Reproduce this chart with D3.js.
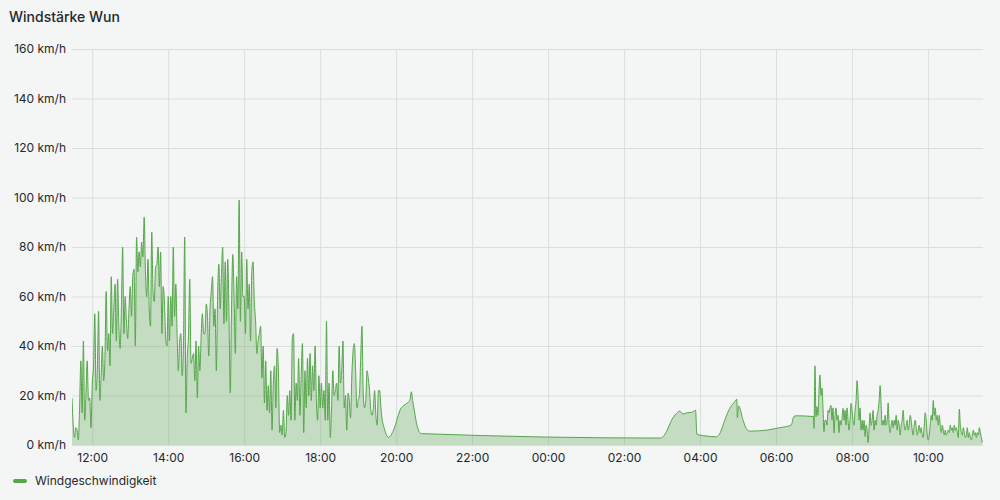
<!DOCTYPE html>
<html>
<head>
<meta charset="utf-8">
<script src="https://cdn.jsdelivr.net/npm/d3@7"></script>
<style>
  body { margin: 0; background: #f4f5f5; }
  svg { display: block; font-family: Inter, "Noto Sans", sans-serif; }
</style>
</head>
<body>
<svg id="chart" width="1000" height="500"></svg>
<script>
// storm afternoon, one reading every 2 minutes from 11:28
const stormStart = '2024-05-01 11:28'
const stormStepMin = 2
const stormValues = [
  19, 8, 3, 7, 6, 2, 15, 34, 13, 42, 10, 20, 34, 18, 19, 7,
  25, 32, 53, 22, 30, 54, 18, 28, 40, 26, 35, 62, 38, 45, 32, 68, 45, 55, 65, 42, 67, 48, 39, 55, 80, 45, 60, 50, 43, 55,
  64, 52, 68, 71, 40, 84, 70, 78, 72, 82, 76, 92, 70, 60, 75, 55, 48, 86, 62, 58, 72, 73, 80, 64, 78, 45, 64, 58, 43, 40,
  60, 42, 60, 48, 80, 52, 65, 45, 30, 42, 45, 28, 40, 84, 13, 35, 44, 67, 33, 35, 37, 26, 42, 19, 40, 30, 44, 53, 45, 45,
  57, 52, 36, 55, 62, 68, 48, 55, 30, 60, 73, 55, 68, 80, 49, 74, 50, 75, 52, 21, 55, 77, 60, 37, 68, 55, 99, 50, 78, 60,
  60, 45, 75, 55, 65, 42, 70, 74, 58, 50, 37, 42, 45, 48, 27, 40, 17, 34, 14, 24, 13, 30, 6, 25, 32, 15, 39, 30, 5, 8,
  4, 14, 3, 5, 20, 12, 22, 10, 43, 45, 10, 25, 18, 35, 12, 28, 41, 5, 30, 15, 35, 20, 37, 18, 32, 22, 40, 18, 10, 28,
  15, 25, 15, 22, 10, 50, 10, 25, 3, 15, 30, 20, 22, 25, 18, 40, 25, 30, 42, 15, 20, 6, 21, 18, 11, 28, 38, 41, 30, 15,
  18, 20, 35, 48, 21, 15, 18, 30, 27, 22, 14, 12, 15, 22, 12, 8, 22, 22, 15, 10, 8, 6, 4.5, 3.5, 3, 3.5, 4, 5, 6, 7.5,
  9, 11, 12.5, 14, 15, 15.5, 16, 16.3, 16.7, 17, 17.5, 18.5, 21.5, 18, 15, 12, 9, 7, 5.5, 4.8,
  4.6
]

// quiet night, sparse readings
const calmTimes = [
  '2024-05-02 02:58', '2024-05-02 03:07', '2024-05-02 03:15', '2024-05-02 03:23', '2024-05-02 03:28',
  '2024-05-02 03:33', '2024-05-02 03:39', '2024-05-02 03:47', '2024-05-02 03:53', '2024-05-02 03:55',
  '2024-05-02 04:00', '2024-05-02 04:11', '2024-05-02 04:26', '2024-05-02 04:32', '2024-05-02 04:39',
  '2024-05-02 04:47', '2024-05-02 04:55', '2024-05-02 04:58', '2024-05-02 04:59', '2024-05-02 05:01',
  '2024-05-02 05:08', '2024-05-02 05:14', '2024-05-02 05:19', '2024-05-02 05:45', '2024-05-02 06:06',
  '2024-05-02 06:24', '2024-05-02 06:28', '2024-05-02 06:32', '2024-05-02 06:59'
]
const calmValues = [
  2.8, 5.4, 10, 12.8, 13.7,
  12.5, 13, 13.2, 14, 4.4,
  4, 3.6, 3.3, 5, 10,
  14.8, 17.5, 18.5, 11, 15.8,
  10, 6.3, 5.6, 6, 7,
  8, 11.4, 11.8, 11.5
]

// gusty morning, one reading every 95 seconds from 07:00
const morningStart = '2024-05-02 07:00'
const morningStepSec = 95
const morningValues = [
  6.7, 32, 11.4, 15.5, 12, 22, 28.3, 20, 23, 15,
  5.4, 10, 10, 8, 14, 13, 15, 16, 10, 15,
  4.8, 12, 15, 10, 12, 5, 10, 8, 10.8, 14.8,
  10, 14, 8, 15, 10, 6, 10, 16.8, 14, 10,
  8, 14, 18, 26, 20, 10, 15, 6, 10, 6,
  10, 3.4, 8, 6, 1, 7, 13, 8, 10, 14,
  6, 10, 8, 12, 14, 18, 24, 16, 8, 10,
  8, 12, 8, 10, 17, 8, 5, 8, 10, 7,
  10, 8, 12, 6, 10, 8, 4, 8, 10, 14,
  8, 6, 8, 10, 6, 8, 12, 10, 6, 4,
  8, 10, 7, 4, 6, 8, 5, 7, 4, 3,
  8, 13, 10, 4, 2, 4, 8, 12, 10, 18,
  12, 15, 10, 12, 8, 12, 8, 5, 8, 6,
  4, 6, 4, 5, 6, 5, 8, 6, 7, 5,
  8, 6, 7, 5, 3, 14.5, 8, 5, 4, 7,
  5, 3, 4, 7, 3, 5, 3, 2, 4, 6,
  4, 5, 3, 5, 4, 7, 5, 3, 1
]

const yTicks = [0, 20, 40, 60, 80, 100, 120, 140, 160]
const timeRange = ['2024-05-01 11:28', '2024-05-02 11:27']
const seriesName = 'Windgeschwindigkeit'
const title = 'Windstärke Wun'

const parse = d3.timeParse('%Y-%m-%d %H:%M')
const green = '#56a64b'
const textColor = '#24292e'

const plot = { left: 72, right: 983, top: 49, bottom: 445 }

// put all readings into one series
var points = []
var t0 = parse(stormStart)
stormValues.forEach((v, i) => points.push({ t: d3.timeMinute.offset(t0, i * stormStepMin), v: v }))
calmTimes.forEach((s, i) => points.push({ t: parse(s), v: calmValues[i] }))
var t1 = parse(morningStart)
morningValues.forEach((v, i) => points.push({ t: d3.timeSecond.offset(t1, i * morningStepSec), v: v }))

const x = d3.scaleTime()
    .domain(timeRange.map(parse))
    .range([plot.left, plot.right])

const y = d3.scaleLinear()
    .domain([0, 160])
    .range([plot.bottom, plot.top])

const svg = d3.select('#chart')

svg.append('text')
    .attr('x', 9)
    .attr('y', 22)
    .style('font-size', '14px')
    .style('font-weight', 500)
    .attr('fill', textColor)
    .text(title)

// grid
svg.append('g')
    .attr('transform', `translate(${plot.left},0)`)
    .call(d3.axisLeft(y).tickValues(yTicks).tickSize(-(plot.right - plot.left)).tickFormat(''))
    .call(g => g.select('.domain').remove())
    .call(g => g.selectAll('line').attr('stroke', '#dcdddf'))

svg.append('g')
    .attr('transform', `translate(0,${plot.bottom})`)
    .call(d3.axisBottom(x).ticks(d3.timeHour.every(2)).tickSize(-(plot.bottom - plot.top)).tickFormat(''))
    .call(g => g.select('.domain').remove())
    .call(g => g.selectAll('line').attr('stroke', '#dcdddf'))

// tick labels
svg.append('g')
    .attr('transform', `translate(${plot.left - 6},0)`)
    .call(d3.axisLeft(y).tickValues(yTicks).tickSize(0).tickPadding(0).tickFormat(d => d + ' km/h'))
    .call(g => g.select('.domain').remove())
    .call(g => g.selectAll('text')
        .attr('fill', textColor)
        .style('font-size', '12px')
        .style('font-family', 'Inter, "Noto Sans", sans-serif'))

svg.append('g')
    .attr('transform', `translate(0,${plot.bottom + 8})`)
    .call(d3.axisBottom(x).ticks(d3.timeHour.every(2)).tickSize(0).tickPadding(0).tickFormat(d3.timeFormat('%H:%M')))
    .call(g => g.select('.domain').remove())
    .call(g => g.selectAll('text')
        .attr('fill', textColor)
        .style('font-size', '12px')
        .style('font-family', 'Inter, "Noto Sans", sans-serif'))

svg.append('clipPath')
    .attr('id', 'clip')
  .append('rect')
    .attr('x', plot.left)
    .attr('y', plot.top)
    .attr('width', plot.right - plot.left)
    .attr('height', plot.bottom - plot.top)

const area = d3.area()
    .x(d => x(d.t))
    .y0(y(0))
    .y1(d => y(d.v))
    .curve(d3.curveMonotoneX)

const line = d3.line()
    .x(d => x(d.t))
    .y(d => y(d.v))
    .curve(d3.curveMonotoneX)

const series = svg.append('g').attr('clip-path', 'url(#clip)')

series.append('path')
    .datum(points)
    .attr('d', area)
    .attr('fill', green)
    .attr('fill-opacity', 0.3)

series.append('path')
    .datum(points)
    .attr('d', line)
    .attr('fill', 'none')
    .attr('stroke', green)
    .attr('stroke-width', 1)

// legend
svg.append('line')
    .attr('x1', 15).attr('x2', 25)
    .attr('y1', 481).attr('y2', 481)
    .attr('stroke', green)
    .attr('stroke-width', 4)
    .attr('stroke-linecap', 'round')

svg.append('text')
    .attr('x', 35)
    .attr('y', 481)
    .attr('dy', '0.35em')
    .style('font-size', '12px')
    .attr('fill', textColor)
    .text(seriesName)
</script>
</body>
</html>
